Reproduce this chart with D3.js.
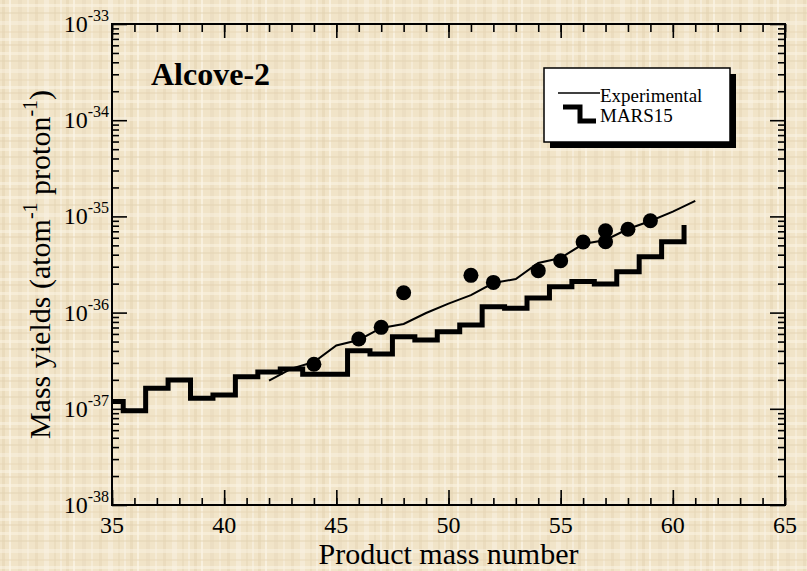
<!DOCTYPE html>
<html>
<head>
<meta charset="utf-8">
<script src="https://cdn.jsdelivr.net/npm/d3@7"></script>
<style>
  html, body { margin: 0; padding: 0; background: #f0e3c7; }
  svg { display: block; }
  text { font-family: "Liberation Serif", "Times New Roman", serif; fill: #000; }
</style>
</head>
<body>
<svg id="chart" width="807" height="571"></svg>
<script>
// Measured activity points (mass number, yield)
const pointMass  = [44, 46, 47, 48, 51, 52, 54, 55, 56, 57, 57, 58, 59];
const pointYield = [2.90e-37, 5.32e-37, 7.03e-37, 1.61e-36, 2.44e-36, 2.06e-36,
                    2.73e-36, 3.46e-36, 5.42e-36, 7.10e-36, 5.46e-36, 7.34e-36, 9.02e-36];

// Experimental mass-yield curve
const expMass  = [42, 43, 44, 45, 46, 47, 48, 49, 50, 51, 52, 53, 54, 55, 56, 57, 58, 59, 60, 61];
const expYield = [1.96e-37, 2.62e-37, 3.06e-37, 4.55e-37, 5.19e-37, 6.92e-37, 7.61e-37, 9.9e-37,
                  1.24e-36, 1.52e-36, 2.03e-36, 2.23e-36, 3.28e-36, 3.70e-36, 5.16e-36, 5.69e-36,
                  7.40e-36, 8.96e-36, 1.12e-35, 1.45e-35];

// MARS15 simulated yields, one bin per mass number
const marsMass  = [35, 36, 37, 38, 39, 40, 41, 42, 43, 44, 45, 46, 47, 48, 49, 50, 51, 52, 53,
                   54, 55, 56, 57, 58, 59, 60, 61];
const marsYield = [1.19e-37, 9.55e-38, 1.64e-37, 1.99e-37, 1.29e-37, 1.39e-37, 2.16e-37, 2.41e-37,
                   2.59e-37, 2.28e-37, 2.28e-37, 4.02e-37, 3.71e-37, 5.62e-37, 5.19e-37, 6.33e-37,
                   7.43e-37, 1.15e-36, 1.11e-36, 1.42e-36, 1.86e-36, 2.10e-36, 1.98e-36, 2.66e-36,
                   3.81e-36, 5.46e-36, 8.14e-36];

// Axis ticks
const xMajorTicks = [35, 40, 45, 50, 55, 60, 65];
const xMinorTicks = d3.range(35, 66, 1);
const yExponents  = [-38, -37, -36, -35, -34, -33];

const svg = d3.select("#chart");
const W = 807, H = 571;
const plot = { left: 112, right: 785, top: 24, bottom: 505 };

// Woven background texture
const defs = svg.append("defs");
const pat = defs.append("pattern")
  .attr("id", "weave").attr("patternUnits", "userSpaceOnUse")
  .attr("width", 64).attr("height", 48);
pat.append("rect").attr("width", 64).attr("height", 48).attr("fill", "#f1e4c8");
[[2, 3, "#e4d3b2", 0.55], [9, 2, "#faf3e4", 0.8], [18, 4, "#e8d8ba", 0.45], [27, 2, "#f7eedc", 0.7],
 [35, 3, "#e2d0ae", 0.4], [44, 5, "#f8f0e0", 0.6], [54, 2, "#e6d5b5", 0.5], [60, 2, "#f9f2e5", 0.6]]
  .forEach(([x, w, c, o]) => pat.append("rect").attr("x", x).attr("y", 0).attr("width", w)
    .attr("height", 48).attr("fill", c).attr("opacity", o));
[[4, 3, "#faf3e3", 0.55], [12, 2, "#e3d2b1", 0.45], [21, 4, "#f9f1e1", 0.5], [31, 2, "#e5d4b4", 0.4],
 [38, 3, "#fbf5e8", 0.5], [44, 2, "#e2d0af", 0.4]]
  .forEach(([y, h, c, o]) => pat.append("rect").attr("x", 0).attr("y", y).attr("width", 64)
    .attr("height", h).attr("fill", c).attr("opacity", o));
svg.append("rect").attr("width", W).attr("height", H).attr("fill", "url(#weave)");

// Scales
const x = d3.scaleLinear().domain([35, 65]).range([plot.left, plot.right]);
const y = d3.scaleLog().domain([1e-38, 1e-33]).range([plot.bottom, plot.top]);

const yMinorValues = [];
yExponents.slice(0, -1).forEach(e => {
  for (let m = 2; m <= 9; m++) yMinorValues.push(m * Math.pow(10, e));
});
const yMajorValues = yExponents.map(e => Math.pow(10, e));

// Axes with inward ticks on all four sides
function tickAxis(axis, values, size, transform) {
  const g = svg.append("g").attr("transform", transform)
    .call(axis.tickValues(values).tickSize(-size).tickFormat(""));
  g.select(".domain").remove();
  g.selectAll(".tick line").attr("stroke", "#000").attr("stroke-width", 1.6);
  return g;
}
tickAxis(d3.axisBottom(x), xMinorTicks, 7, `translate(0,${plot.bottom})`);
tickAxis(d3.axisBottom(x), xMajorTicks, 15, `translate(0,${plot.bottom})`);
tickAxis(d3.axisTop(x), xMinorTicks, 8, `translate(0,${plot.top})`);
tickAxis(d3.axisTop(x), xMajorTicks, 14, `translate(0,${plot.top})`);
tickAxis(d3.axisLeft(y), yMinorValues, 7, `translate(${plot.left},0)`);
tickAxis(d3.axisLeft(y), yMajorValues, 15, `translate(${plot.left},0)`);
tickAxis(d3.axisRight(y), yMinorValues, 7, `translate(${plot.right},0)`);
tickAxis(d3.axisRight(y), yMajorValues, 15, `translate(${plot.right},0)`);

// Frame
svg.append("rect")
  .attr("x", plot.left).attr("y", plot.top)
  .attr("width", plot.right - plot.left).attr("height", plot.bottom - plot.top)
  .attr("fill", "none").attr("stroke", "#000").attr("stroke-width", 2);

// X tick labels
svg.append("g").selectAll("text").data(xMajorTicks).join("text")
  .attr("x", d => x(d)).attr("y", plot.bottom + 28)
  .attr("text-anchor", "middle").attr("font-size", 24)
  .text(d => d);

// Y tick labels: 10 with a superscript exponent
const yl = svg.append("g").selectAll("text").data(yExponents).join("text")
  .attr("x", plot.left - 3).attr("y", d => y(Math.pow(10, d)) + 8)
  .attr("text-anchor", "end").attr("font-size", 24);
yl.append("tspan").text("10");
yl.append("tspan").attr("font-size", 16).attr("dy", -11).text(d => "-" + Math.abs(d));

// Axis titles
svg.append("text")
  .attr("x", (plot.left + plot.right) / 2).attr("y", 564)
  .attr("text-anchor", "middle").attr("font-size", 30)
  .text("Product mass number");

const yt = svg.append("text")
  .attr("transform", `translate(50,${(plot.top + plot.bottom) / 2}) rotate(-90)`)
  .attr("text-anchor", "middle").attr("font-size", 30);
yt.append("tspan").text("Mass yields (atom");
yt.append("tspan").attr("font-size", 20).attr("dy", -13).text("-1");
yt.append("tspan").attr("dy", 13).text(" proton");
yt.append("tspan").attr("font-size", 20).attr("dy", -13).text("-1");
yt.append("tspan").attr("dy", 13).text(")");

// Panel label
svg.append("text").attr("x", 151).attr("y", 85)
  .attr("font-size", 32).attr("font-weight", "bold")
  .text("Alcove-2");

// Clip to plot area
defs.append("clipPath").attr("id", "plotClip").append("rect")
  .attr("x", plot.left).attr("y", plot.top)
  .attr("width", plot.right - plot.left).attr("height", plot.bottom - plot.top);
const inner = svg.append("g").attr("clip-path", "url(#plotClip)");

// MARS15 histogram: each bin spans mass number ± 0.5
const marsLine = d3.line()
  .x(d => x(d[0] - 0.5)).y(d => y(d[1]))
  .curve(d3.curveStepAfter);
inner.append("path")
  .datum(marsMass.map((m, i) => [m, marsYield[i]]))
  .attr("d", marsLine)
  .attr("fill", "none").attr("stroke", "#000").attr("stroke-width", 5)
  .attr("stroke-linejoin", "miter");

// Experimental curve
const expLine = d3.line().x(d => x(d[0])).y(d => y(d[1]));
inner.append("path")
  .datum(expMass.map((m, i) => [m, expYield[i]]))
  .attr("d", expLine)
  .attr("fill", "none").attr("stroke", "#000").attr("stroke-width", 2);

// Measured points
inner.append("g").selectAll("circle")
  .data(pointMass.map((m, i) => [m, pointYield[i]]))
  .join("circle")
  .attr("cx", d => x(d[0])).attr("cy", d => y(d[1])).attr("r", 7.5)
  .attr("fill", "#000");

// Legend box with drop shadow
const lg = svg.append("g");
lg.append("rect").attr("x", 550).attr("y", 74).attr("width", 186).attr("height", 74).attr("fill", "#000");
lg.append("rect").attr("x", 544).attr("y", 68).attr("width", 186).attr("height", 74)
  .attr("fill", "#fff").attr("stroke", "#000").attr("stroke-width", 1.5);
lg.append("line").attr("x1", 558).attr("x2", 600).attr("y1", 93).attr("y2", 93)
  .attr("stroke", "#000").attr("stroke-width", 1.6);
lg.append("path").attr("d", "M563,107H580V121H596")
  .attr("fill", "none").attr("stroke", "#000").attr("stroke-width", 5);
lg.append("text").attr("x", 600).attr("y", 102).attr("font-size", 19).text("Experimental");
lg.append("text").attr("x", 600).attr("y", 122).attr("font-size", 19).text("MARS15");
</script>
</body>
</html>
